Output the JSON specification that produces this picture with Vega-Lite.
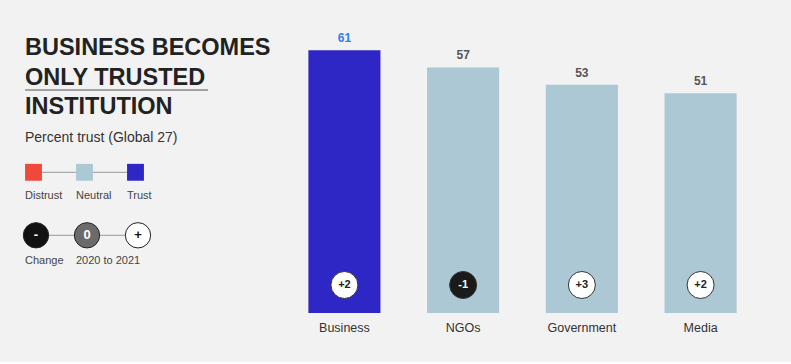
{
  "$schema": "https://vega.github.io/schema/vega-lite/v6.json",
  "background": "#f2f2f2",
  "padding": {"left": 21, "top": 20, "right": 35, "bottom": 28},
  "config": {"view": {"stroke": null}, "font": "Liberation Sans"},
  "spacing": 10,
  "hconcat": [
    {
      "width": 250,
      "height": 293,
      "resolve": {"scale": {"color": "independent"}},
      "layer": [
        {
          "data": {"values": [{"heading": "BUSINESS BECOMES ONLY TRUSTED INSTITUTION"}]},
          "mark": {"type": "text", "text": ["BUSINESS BECOMES", "ONLY TRUSTED", "INSTITUTION"], "align": "left", "baseline": "alphabetic", "fontSize": 23.5, "fontWeight": "bold", "lineHeight": 29.7, "color": "#222"},
          "encoding": {
            "x": {"datum": 0, "type": "quantitative", "scale": {"domain": [0, 4.902], "nice": false, "zero": false}, "axis": null},
            "y": {"datum": 35, "type": "quantitative", "scale": {"domain": [0, 293], "reverse": true, "nice": false, "zero": false}, "axis": null}
          }
        },
        {
          "data": {"values": [{"underline": "ONLY TRUSTED"}]},
          "mark": {"type": "rule", "color": "#555", "strokeWidth": 1},
          "encoding": {
            "x": {"datum": 0, "type": "quantitative", "scale": {"domain": [0, 4.902], "nice": false, "zero": false}, "axis": null},
            "x2": {"datum": 3.59},
            "y": {"datum": 70, "type": "quantitative", "scale": {"domain": [0, 293], "reverse": true, "nice": false, "zero": false}, "axis": null}
          }
        },
        {
          "data": {"values": [{"subtitle": "Percent trust (Global 27)"}]},
          "mark": {"type": "text", "align": "left", "baseline": "alphabetic", "fontSize": 14, "color": "#333"},
          "encoding": {
            "text": {"field": "subtitle"},
            "x": {"datum": 0, "type": "quantitative", "scale": {"domain": [0, 4.902], "nice": false, "zero": false}, "axis": null},
            "y": {"datum": 121.5, "type": "quantitative", "scale": {"domain": [0, 293], "reverse": true, "nice": false, "zero": false}, "axis": null}
          }
        },
        {
          "data": {"values": [{"connector": "trust"}]},
          "mark": {"type": "rule", "color": "#999", "strokeWidth": 1},
          "encoding": {
            "x": {"datum": 0, "type": "quantitative", "scale": {"domain": [0, 4.902], "nice": false, "zero": false}, "axis": null},
            "x2": {"datum": 2},
            "y": {"datum": 152.3, "type": "quantitative", "scale": {"domain": [0, 293], "reverse": true, "nice": false, "zero": false}, "axis": null}
          }
        },
        {
          "data": {"values": [{"label": "Distrust", "col": 0}, {"label": "Neutral", "col": 1}, {"label": "Trust", "col": 2}]},
          "mark": {"type": "square", "size": 285, "filled": true, "opacity": 1, "xOffset": 8.5},
          "encoding": {
            "x": {"field": "col", "type": "quantitative", "scale": {"domain": [0, 4.902], "nice": false, "zero": false}, "axis": null},
            "y": {"datum": 152.3, "type": "quantitative", "scale": {"domain": [0, 293], "reverse": true, "nice": false, "zero": false}, "axis": null},
            "color": {"field": "label", "type": "nominal", "scale": {"domain": ["Distrust", "Neutral", "Trust"], "range": ["#f0493b", "#abc8d4", "#2f27c5"]}, "legend": null}
          }
        },
        {
          "data": {"values": [{"label": "Distrust", "col": 0}, {"label": "Neutral", "col": 1}, {"label": "Trust", "col": 2}]},
          "mark": {"type": "text", "align": "left", "baseline": "alphabetic", "fontSize": 11, "color": "#444"},
          "encoding": {
            "text": {"field": "label"},
            "x": {"field": "col", "type": "quantitative", "scale": {"domain": [0, 4.902], "nice": false, "zero": false}, "axis": null},
            "y": {"datum": 179, "type": "quantitative", "scale": {"domain": [0, 293], "reverse": true, "nice": false, "zero": false}, "axis": null}
          }
        },
        {
          "data": {"values": [{"connector": "change"}]},
          "mark": {"type": "rule", "color": "#999", "strokeWidth": 1},
          "encoding": {
            "x": {"datum": 0, "type": "quantitative", "scale": {"domain": [0, 4.902], "nice": false, "zero": false}, "axis": null},
            "x2": {"datum": 2},
            "y": {"datum": 215.3, "type": "quantitative", "scale": {"domain": [0, 293], "reverse": true, "nice": false, "zero": false}, "axis": null}
          }
        },
        {
          "data": {"values": [{"sym": "-", "col": 0}, {"sym": "0", "col": 1}, {"sym": "+", "col": 2}]},
          "mark": {"type": "point", "shape": "circle", "size": 640, "filled": true, "opacity": 1, "xOffset": 11, "stroke": "#222", "strokeWidth": 1},
          "encoding": {
            "x": {"field": "col", "type": "quantitative", "scale": {"domain": [0, 4.902], "nice": false, "zero": false}, "axis": null},
            "y": {"datum": 215.3, "type": "quantitative", "scale": {"domain": [0, 293], "reverse": true, "nice": false, "zero": false}, "axis": null},
            "color": {"field": "sym", "type": "nominal", "scale": {"domain": ["-", "0", "+"], "range": ["#111111", "#6b6b6b", "#ffffff"]}, "legend": null}
          }
        },
        {
          "data": {"values": [{"sym": "-", "col": 0}, {"sym": "0", "col": 1}, {"sym": "+", "col": 2}]},
          "mark": {"type": "text", "align": "center", "baseline": "middle", "fontSize": 13, "fontWeight": "bold", "xOffset": 11},
          "encoding": {
            "text": {"field": "sym"},
            "x": {"field": "col", "type": "quantitative", "scale": {"domain": [0, 4.902], "nice": false, "zero": false}, "axis": null},
            "y": {"datum": 215.3, "type": "quantitative", "scale": {"domain": [0, 293], "reverse": true, "nice": false, "zero": false}, "axis": null},
            "color": {"condition": {"test": "datum.sym === '+'", "value": "#111111"}, "value": "#ffffff"}
          }
        },
        {
          "data": {"values": [{"label": "Change", "col": 0}, {"label": "2020 to 2021", "col": 1}]},
          "mark": {"type": "text", "align": "left", "baseline": "alphabetic", "fontSize": 11, "color": "#444"},
          "encoding": {
            "text": {"field": "label"},
            "x": {"field": "col", "type": "quantitative", "scale": {"domain": [0, 4.902], "nice": false, "zero": false}, "axis": null},
            "y": {"datum": 244, "type": "quantitative", "scale": {"domain": [0, 293], "reverse": true, "nice": false, "zero": false}, "axis": null}
          }
        }
      ]
    },
    {
      "width": 475,
      "height": 293,
      "data": {"values": [
        {"institution": "Business", "trust": 61, "change": "+2"},
        {"institution": "NGOs", "trust": 57, "change": "-1"},
        {"institution": "Government", "trust": 53, "change": "+3"},
        {"institution": "Media", "trust": 51, "change": "+2"}
      ]},
      "encoding": {
        "x": {"field": "institution", "type": "nominal", "sort": null, "scale": {"type": "band", "paddingInner": 0.393, "paddingOuter": 0.197},
              "axis": {"title": null, "labelAngle": 0, "domain": false, "ticks": false, "tickSize": 0, "grid": false, "labelPadding": 8, "labelFontSize": 12.5, "labelColor": "#333", "labelFont": "Liberation Sans"}}
      },
      "layer": [
        {
          "mark": {"type": "bar"},
          "encoding": {
            "y": {"field": "trust", "type": "quantitative", "scale": {"domain": [0, 68], "nice": false}, "axis": null},
            "color": {"condition": {"test": "datum.institution === 'Business'", "value": "#2f27c5"}, "value": "#abc8d4"}
          }
        },
        {
          "mark": {"type": "text", "dy": -8, "baseline": "alphabetic", "fontSize": 12, "fontWeight": "bold"},
          "encoding": {
            "y": {"field": "trust", "type": "quantitative", "scale": {"domain": [0, 68], "nice": false}, "axis": null},
            "text": {"field": "trust"},
            "color": {"condition": {"test": "datum.institution === 'Business'", "value": "#2f7fe8"}, "value": "#555555"}
          }
        },
        {
          "mark": {"type": "point", "shape": "circle", "size": 729, "filled": true, "opacity": 1, "stroke": "#333", "strokeWidth": 1},
          "encoding": {
            "y": {"datum": 6.5, "type": "quantitative"},
            "color": {"condition": {"test": "indexof(datum.change, '-') === 0", "value": "#1a1a1a"}, "value": "#ffffff"}
          }
        },
        {
          "mark": {"type": "text", "baseline": "middle", "fontSize": 11, "fontWeight": "bold"},
          "encoding": {
            "y": {"datum": 6.5, "type": "quantitative"},
            "text": {"field": "change"},
            "color": {"condition": {"test": "indexof(datum.change, '-') === 0", "value": "#ffffff"}, "value": "#222222"}
          }
        }
      ]
    }
  ]
}
